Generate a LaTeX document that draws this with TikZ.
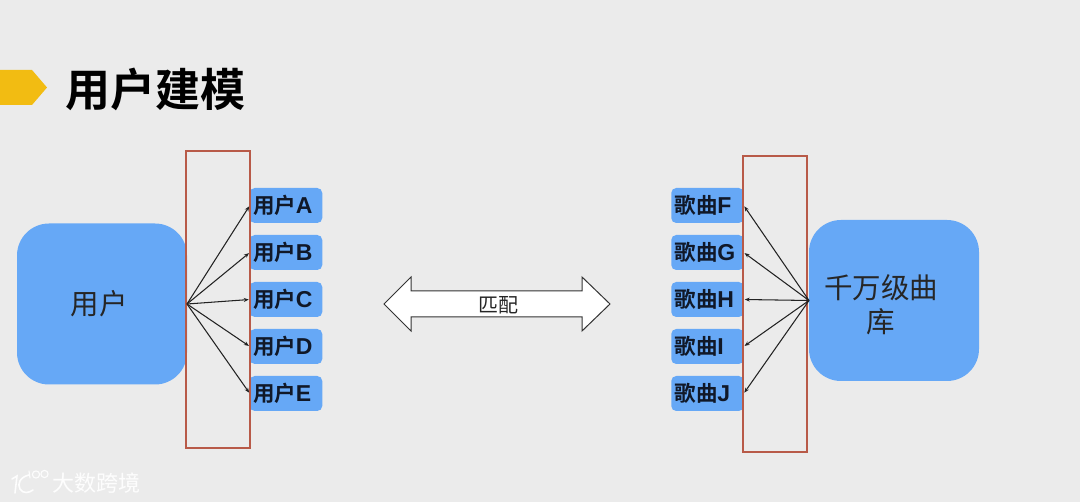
\documentclass[tikz,border=0pt]{standalone}
\usepackage{fontspec}
\setmainfont{Noto Sans CJK SC}[BoldFont={Noto Sans CJK SC Bold}]
\newfontfamily\latf{Liberation Sans}
\usetikzlibrary{arrows.meta}
\definecolor{bgc}{HTML}{EBEBEB}
\definecolor{bluec}{HTML}{66A8F6}
\definecolor{redc}{HTML}{B85A48}
\definecolor{yellowc}{HTML}{F2BC12}
\definecolor{inkc}{HTML}{101828}
\definecolor{linec}{HTML}{222222}
\newcommand{\fsz}[1]{\fontsize{#1pt}{#1pt}\selectfont}
\newcommand{\lat}[1]{\hspace{-0.5pt}{\fontsize{23pt}{23pt}\selectfont\latf\bfseries #1}}
\tikzset{
  bigbox/.style={fill=bluec,rounded corners=32pt,minimum width=170pt,minimum height=161pt,inner sep=0pt,outer sep=0pt},
  biglabel/.style={inner sep=0pt,align=center,text=black!85,font=\fontsize{28.5pt}{34pt}\selectfont},
  smallbox/.style={fill=bluec,rounded corners=5pt,minimum width=72.5pt,minimum height=35pt,inner ysep=0pt,inner xsep=3.5pt,outer sep=0pt,text width=65.5pt,align=left,text=inkc,font=\fsz{21.5}\bfseries},
  frame/.style={draw=redc,line width=1.4pt},
  conn/.style={draw=linec,line width=1.05pt,shorten >=1pt,-{Stealth[length=5pt,width=4pt]}},
}
\begin{document}
\begin{tikzpicture}[x=1pt,y=-1pt]
\useasboundingbox (0,0) rectangle (1080,502);
\fill[bgc] (0,0) rectangle (1080,502);
% title
\fill[yellowc] (0,70) -- (32,70) -- (47,87.5) -- (32,105) -- (0,105) -- cycle;
\node[inner sep=0pt,anchor=west,font=\fsz{45}\bfseries,text=black] (title) at (65.5,89) {用户建模};
% big boxes
\node[bigbox] (user) at (102,304) {};
\node[biglabel] (userlabel) at (99,304) {用户};
\node[bigbox] (lib) at (894,300.5) {};
\node[biglabel] (liblabel) at (881,305) {千万级曲\\库};
% small boxes
\node[smallbox] (ua) at (286,205.5) {用户\lat{A}};
\node[smallbox] (ub) at (286,252.5) {用户\lat{B}};
\node[smallbox] (uc) at (286,299.5) {用户\lat{C}};
\node[smallbox] (ud) at (286,346.5) {用户\lat{D}};
\node[smallbox] (ue) at (286,393.5) {用户\lat{E}};
\node[smallbox] (sf) at (707.5,205.5) {歌曲\lat{F}};
\node[smallbox] (sg) at (707.5,252.5) {歌曲\lat{G}};
\node[smallbox] (sh) at (707.5,299.5) {歌曲\lat{H}};
\node[smallbox] (si) at (707.5,346.5) {歌曲\lat{I}};
\node[smallbox] (sj) at (707.5,393.5) {歌曲\lat{J}};
% red frames
\draw[frame] (186,151) rectangle (250,448);
\draw[frame] (743,156) rectangle (807,452);
% connectors
\foreach \t in {ua,ub,uc,ud,ue}
  \draw[conn] (user.east) -- (\t.west);
\foreach \t in {sf,sg,sh,si,sj}
  \draw[conn] (lib.west) -- (\t.east);
% double arrow
\draw[fill=white,draw=black!80,line width=1pt,line join=miter]
  (384,304) -- (411,277) -- (411,291) -- (582,291) -- (582,277) -- (610,304)
  -- (582,331) -- (582,317) -- (411,317) -- (411,331) -- cycle;
\node[inner sep=0pt,font=\fsz{20},text=black!85] (match) at (498,305) {匹配};
% watermark
\begin{scope}[draw=white,line width=1.6pt,line cap=round,opacity=0.9]
  \draw (12,479) -- (17,476) -- (15,493);
  \draw (29,475) .. controls (20,477) and (17,484) .. (20,489) .. controls (23,494) and (29,493) .. (33,490);
  \draw[line width=1.1pt] (29,471) -- (30,478);
  \draw[line width=1.1pt] (36,474.5) circle (3.6pt);
  \draw[line width=1.1pt] (44.5,474) circle (3.6pt);
\end{scope}
\node[inner sep=0pt,anchor=west,font=\fsz{22},text=white,opacity=0.92] (mark) at (52,483) {大数跨境};
\end{tikzpicture}
\end{document}
